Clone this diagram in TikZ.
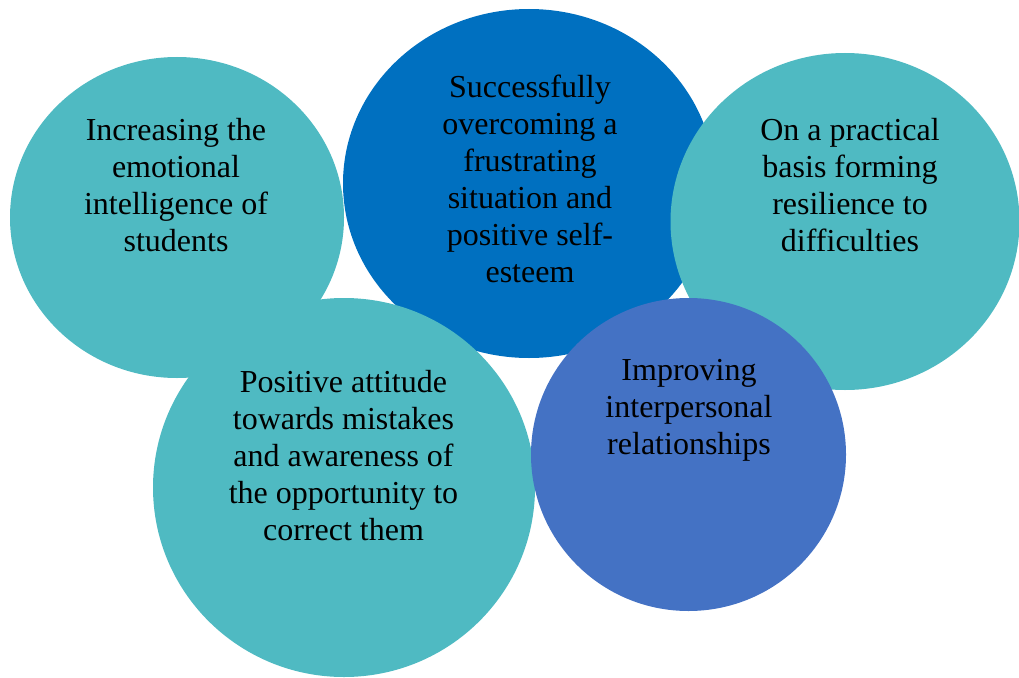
\documentclass[tikz,border=0pt]{standalone}
\usepackage{fontspec}
\setmainfont{Liberation Serif}
\usetikzlibrary{shapes.geometric}
\definecolor{tealc}{HTML}{4FBAC2}
\definecolor{darkbluec}{HTML}{0070C0}
\definecolor{midbluec}{HTML}{4472C4}
\tikzset{
  bubble/.style={ellipse, draw=none, inner sep=0pt, outer sep=0pt},
  btext/.style={anchor=north, inner sep=0pt, align=center, text=black,
    font=\fontsize{32}{37}\selectfont}
}
\newcommand{\fl}{\rule{0pt}{25pt}}
\begin{document}
\begin{tikzpicture}[x=1pt,y=-1pt]
\useasboundingbox (0,0) rectangle (1019,677);
\node[bubble, fill=tealc, minimum width=334pt, minimum height=321pt] (c1) at (177,217.5) {};
\node[bubble, fill=darkbluec, minimum width=372pt, minimum height=349pt] (c2) at (529,183.5) {};
\node[bubble, fill=tealc, minimum width=349pt, minimum height=337pt] (c3) at (845,221.5) {};
\node[bubble, fill=tealc, minimum width=382pt, minimum height=379pt] (c4) at (344,487.5) {};
\node[bubble, fill=midbluec, minimum width=315pt, minimum height=313pt] (c5) at (688.5,454.5) {};
\node[btext] (t1) at (176,140-25) {\fl Increasing the\\emotional\\intelligence of\\students};
\node[btext] (t2) at (530,97-25) {\fl Successfully\\overcoming a\\frustrating\\situation and\\positive self-\\esteem};
\node[btext] (t3) at (850,140-25) {\fl On a practical\\basis forming\\resilience to\\difficulties};
\node[btext] (t4) at (343.5,392-25) {\fl Positive attitude\\towards mistakes\\and awareness of\\the opportunity to\\correct them};
\node[btext] (t5) at (689,380-25) {\fl Improving\\interpersonal\\relationships};
\end{tikzpicture}
\end{document}
